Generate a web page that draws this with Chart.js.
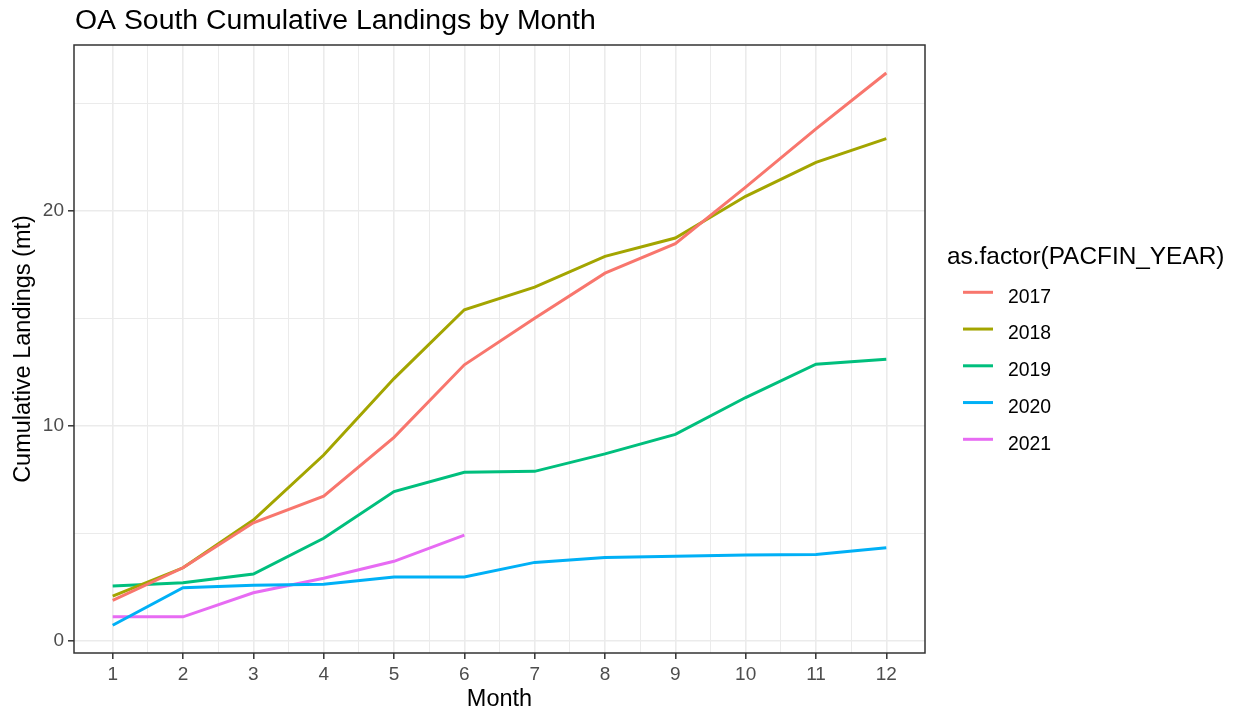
<!DOCTYPE html>
<html>
<head>
<meta charset="utf-8">
<script src="https://cdn.jsdelivr.net/npm/chart.js@4"></script>
<style>
  html, body { margin: 0; padding: 0; background: #fff; }
  #wrap { width: 1238px; height: 717px; position: relative; }
</style>
</head>
<body>
<div id="wrap"><canvas id="myLineChart"></canvas></div>
<script>
// データ
var months = [1, 2, 3, 4, 5, 6, 7, 8, 9, 10, 11, 12];
var years = ['2017', '2018', '2019', '2020', '2021'];
var y2017 = [1.9, 3.41, 5.5, 6.74, 9.47, 12.84, 15.0, 17.1, 18.47, 21.1, 23.8, 26.4];
var y2018 = [2.09, 3.41, 5.63, 8.65, 12.2, 15.4, 16.45, 17.88, 18.73, 20.67, 22.25, 23.35];
var y2019 = [2.56, 2.71, 3.12, 4.78, 6.95, 7.85, 7.89, 8.70, 9.61, 11.32, 12.87, 13.10];
var y2020 = [0.74, 2.48, 2.60, 2.64, 2.98, 2.98, 3.66, 3.89, 3.95, 4.0, 4.03, 4.34];
var y2021 = [1.13, 1.13, 2.25, 2.92, 3.71, 4.93];
var xTickLabels = ['1', '2', '3', '4', '5', '6', '7', '8', '9', '10', '11', '12'];
var yTickLabels = ['0', '10', '20'];
var yTickValues = [0, 10, 20];
var colors = ['#F8766D', '#A3A500', '#00BF7D', '#00B0F6', '#E76BF3'];

var FONT = "'Liberation Sans', Arial, sans-serif";
var series = [y2017, y2018, y2019, y2020, y2021];

function toPoints(vals) {
  return vals.map(function (v, i) { return { x: months[i], y: v }; });
}

// 凡例とタイトル、パネル枠
var extras = {
  id: 'extras',
  afterDraw: function (chart) {
    var c = chart.ctx;
    var a = chart.chartArea;
    c.save();
    // panel border
    c.strokeStyle = '#333333';
    c.lineWidth = 1.5;
    c.strokeRect(a.left, a.top, a.right - a.left, a.bottom - a.top);
    // title
    c.fillStyle = '#000';
    c.font = '28.4px ' + FONT;
    c.textBaseline = 'alphabetic';
    c.textAlign = 'left';
    c.fillText('OA South Cumulative Landings by Month', a.left + 1, 29);
    // legend
    c.font = '24.4px ' + FONT;
    c.fillText('as.factor(PACFIN_YEAR)', 947, 264);
    c.font = '19.4px ' + FONT;
    chart.data.datasets.forEach(function (ds, i) {
      var cy = 292.3 + i * 36.75;
      c.strokeStyle = ds.borderColor;
      c.lineWidth = 3;
      c.beginPath();
      c.moveTo(963, cy);
      c.lineTo(993, cy);
      c.stroke();
      c.fillStyle = '#000';
      c.fillText(ds.label, 1008, cy + 10.4);
    });
    c.restore();
  }
};

var ctx = document.getElementById('myLineChart');
var myLineChart = new Chart(ctx, {
  type: 'line',
  data: {
    datasets: years.map(function (y, i) {
      return {
        label: y,
        data: toPoints(series[i]),
        borderColor: colors[i],
        backgroundColor: colors[i],
        borderWidth: 3,
        pointRadius: 0,
        tension: 0,
        fill: false
      };
    })
  },
  options: {
    responsive: true,
    maintainAspectRatio: false,
    animation: false,
    layout: { padding: { left: 0, right: 313, top: 45, bottom: 0 } },
    plugins: {
      legend: { display: false },
      tooltip: { enabled: false }
    },
    scales: {
      x: {
        type: 'linear',
        min: 0.45,
        max: 12.55,
        afterBuildTicks: function (scale) {
          var t = [];
          for (var v = 1; v <= 12; v += 0.5) t.push({ value: v });
          scale.ticks = t;
        },
        afterFit: function (scale) { scale.height = 64; },
        border: { display: false },
        grid: {
          color: '#EBEBEB',
          lineWidth: function (c) { return c.tick && Number.isInteger(c.tick.value) ? 1.6 : 1; },
          drawTicks: true,
          tickLength: 6,
          tickWidth: 1.5,
          tickColor: function (c) { return c.tick && Number.isInteger(c.tick.value) ? '#333333' : 'rgba(0,0,0,0)'; }
        },
        ticks: {
          autoSkip: false,
          maxRotation: 0,
          padding: 4,
          color: '#4D4D4D',
          font: { family: FONT, size: 19 },
          callback: function (v) {
            var k = months.indexOf(v);
            return k >= 0 ? xTickLabels[k] : '';
          }
        },
        title: {
          display: true,
          text: 'Month',
          color: '#000',
          font: { family: FONT, size: 23.5 },
          padding: { top: 0, bottom: 3 }
        }
      },
      y: {
        type: 'linear',
        min: -0.55,
        max: 27.7,
        afterBuildTicks: function (scale) {
          scale.ticks = [0, 5, 10, 15, 20, 25].map(function (v) { return { value: v }; });
        },
        afterFit: function (scale) { scale.width = 74; },
        border: { display: false },
        grid: {
          color: '#EBEBEB',
          lineWidth: function (c) { return c.tick && c.tick.value % 10 === 0 ? 1.6 : 1; },
          drawTicks: true,
          tickLength: 6,
          tickWidth: 1.5,
          tickColor: function (c) { return c.tick && c.tick.value % 10 === 0 ? '#333333' : 'rgba(0,0,0,0)'; }
        },
        ticks: {
          autoSkip: false,
          padding: 4,
          color: '#4D4D4D',
          font: { family: FONT, size: 19 },
          callback: function (v) {
            var k = yTickValues.indexOf(v);
            return k >= 0 ? yTickLabels[k] : '';
          }
        },
        title: {
          display: true,
          text: 'Cumulative Landings (mt)',
          color: '#000',
          font: { family: FONT, size: 23.5 },
          padding: { top: 9, bottom: 0 }
        }
      }
    }
  },
  plugins: [extras]
});
</script>
</body>
</html>
